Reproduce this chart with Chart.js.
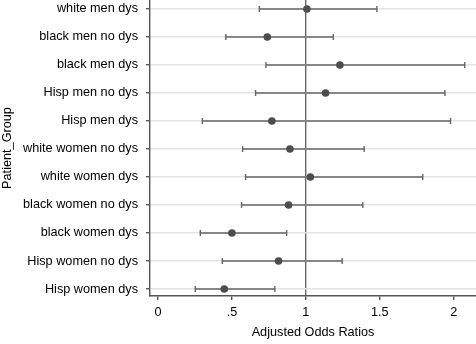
<!DOCTYPE html>
<html>
<head>
<meta charset="utf-8">
<script src="https://cdn.jsdelivr.net/npm/chart.js@4"></script>
<style>
  body { margin: 0; background: #fff; }
  canvas { display: block; }
</style>
</head>
<body>
<canvas id="oddsChart" width="476" height="344"></canvas>
<script>
// Patient groups, top to bottom
const groups = [
  'white men dys', 'black men no dys', 'black men dys', 'Hisp men no dys', 'Hisp men dys',
  'white women no dys', 'white women dys', 'black women no dys', 'black women dys',
  'Hisp women no dys', 'Hisp women dys'
];
const estimates = [1.007, 0.739, 1.23, 1.133, 0.77, 0.892, 1.03, 0.883, 0.5, 0.815, 0.448];
const lowerCI = [0.685, 0.459, 0.73, 0.66, 0.30, 0.572, 0.592, 0.565, 0.286, 0.435, 0.252];
const upperCI = [1.48, 1.185, 2.074, 1.94, 1.978, 1.394, 1.79, 1.385, 0.87, 1.245, 0.79];
const xTicks = [0, 0.5, 1, 1.5, 2];
const xTickLabels = ['0', '.5', '1', '1.5', '2'];

const font = { family: '"Liberation Sans", Arial, sans-serif', size: 12.7 };
const axisColor = '#555';

// Point estimates first so they are drawn on top
const datasets = [{
  data: groups.map((g, i) => ({ x: estimates[i], y: i })),
  pointRadius: 3.8,
  pointBackgroundColor: '#4d4d4d',
  pointBorderWidth: 0,
  showLine: false
}];

// Confidence interval lines with vertical caps
groups.forEach((g, i) => {
  datasets.push({
    data: [{ x: lowerCI[i], y: i }, { x: upperCI[i], y: i }],
    showLine: true,
    borderColor: '#666',
    borderWidth: 1.4,
    pointStyle: 'line',
    pointRotation: 90,
    pointRadius: 3,
    pointBorderColor: '#666',
    pointBorderWidth: 1.4
  });
});

new Chart(document.getElementById('oddsChart'), {
  type: 'scatter',
  data: { datasets: datasets },
  options: {
    responsive: false,
    animation: false,
    layout: { padding: 0, autoPadding: false },
    plugins: { legend: { display: false }, tooltip: { enabled: false } },
    scales: {
      x: {
        min: -0.054,
        max: 2.15,
        afterBuildTicks: s => { s.ticks = xTicks.map(v => ({ value: v })); },
        afterFit: s => { s.height = 48; s.paddingLeft = 0; s.paddingRight = 0; },
        ticks: {
          color: '#000',
          font: font,
          padding: 5,
          maxRotation: 0,
          callback: (v) => xTickLabels[xTicks.indexOf(v)]
        },
        grid: {
          color: c => (c.tick && c.tick.value === 1 ? '#666' : 'rgba(0,0,0,0)'),
          lineWidth: 1.4,
          tickColor: axisColor,
          tickLength: 4
        },
        border: { color: axisColor, width: 1.4 },
        title: {
          display: true,
          text: 'Adjusted Odds Ratios',
          color: '#000',
          font: font,
          padding: { top: 4, bottom: 4 }
        }
      },
      y: {
        reverse: true,
        min: -0.32,
        max: 10.25,
        afterBuildTicks: s => { s.ticks = groups.map((g, i) => ({ value: i })); },
        afterFit: s => { s.width = 150; s.paddingTop = 0; s.paddingBottom = 0; },
        ticks: {
          color: '#000',
          font: font,
          padding: 8,
          callback: (v) => groups[v]
        },
        grid: {
          color: '#e4e4e4',
          lineWidth: 1.4,
          tickColor: axisColor,
          tickLength: 4
        },
        border: { color: axisColor, width: 1.4 },
        title: {
          display: true,
          text: 'Patient_Group',
          color: '#000',
          font: font,
          padding: { top: 0, bottom: 2 }
        }
      }
    }
  }
});
</script>
</body>
</html>
